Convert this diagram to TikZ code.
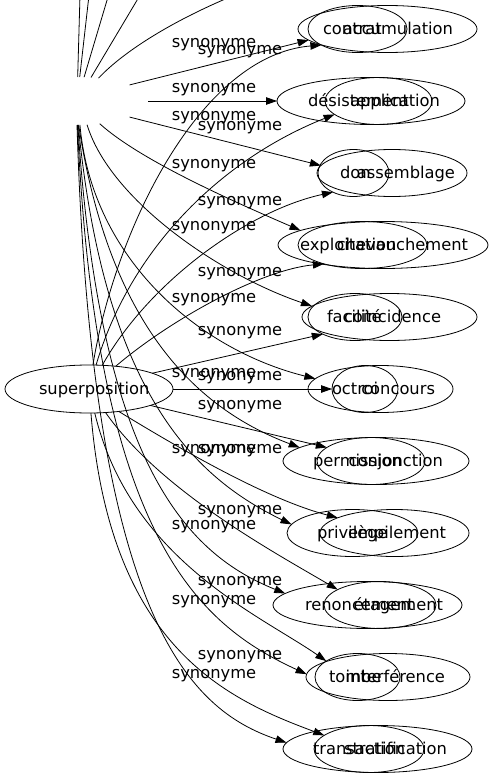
\documentclass[tikz,border=0pt]{standalone}
\usepackage{fontspec}
\setmainfont{DejaVu Sans}
\usetikzlibrary{shapes.geometric,arrows.meta}
\begin{document}
\begin{tikzpicture}[x=1pt,y=-1pt,
  every node/.style={inner sep=0pt,outer sep=0pt},
  ell/.style={draw,ellipse,line width=0.8pt,minimum height=47pt},
  word/.style={font=\fontsize{16.3}{20}\selectfont},
  lbl/.style={font=\fontsize{16.3}{20}\selectfont},
  edge/.style={line width=0.8pt,-{Triangle[length=11pt,width=7.5pt]}},
  stub/.style={line width=0.8pt}]
\useasboundingbox (0,0) rectangle (493,779);
\begin{scope}
\clip (0,0) rectangle (493,779);

% hidden hub of the cut-off graph
\node[ellipse,minimum width=142pt,minimum height=48pt] (hub) at (77,101) {};
\coordinate (o1) at (81,-40);
\coordinate (o2) at (93,-40);
\coordinate (o3) at (119,-40);
\coordinate (o4) at (161,-40);
\coordinate (o5) at (260,-15);

% superposition
\node[ell,minimum width=168pt,minimum height=48pt] (S) at (89,389) {};
\node[word,anchor=base west] (St) at (39,394.5) {superposition};

% rows
\node[ell,minimum width=179pt] (a1) at (387.5,29) {};
\node[ell,minimum width=99pt] (b1) at (357.5,29) {};
\node[word,anchor=base west] (w1a) at (323,34.5) {contrat};
\node[word,anchor=base east] (w1b) at (453,34.5) {accumulation};

\node[ell,minimum width=188pt] (a2) at (371,101) {};
\node[ell,minimum width=107pt] (b2) at (378.5,101) {};
\node[word,anchor=base west] (w2a) at (308,106.5) {désistement};
\node[word,anchor=base east] (w2b) at (440,106.5) {application};

\node[ell,minimum width=150pt] (a3) at (392,173) {};
\node[ell,minimum width=71pt] (b3) at (353.5,173) {};
\node[word,anchor=base west] (w3a) at (340,178.5) {don};
\node[word,anchor=base east] (w3b) at (455,178.5) {assemblage};

\node[ell,minimum width=210pt] (a4) at (383,245) {};
\node[ell,minimum width=129pt] (b4) at (362.5,245) {};
\node[word,anchor=base west] (w4a) at (300,250.5) {exploitation};
\node[word,anchor=base east] (w4b) at (468,250.5) {chevauchement};

\node[ell,minimum width=175pt] (a5) at (389.5,317) {};
\node[ell,minimum width=94pt] (b5) at (355,317) {};
\node[word,anchor=base west] (w5a) at (327,322.5) {facilité};
\node[word,anchor=base east] (w5b) at (441,322.5) {coïncidence};

\node[ell,minimum width=145pt] (a6) at (380.5,389) {};
\node[ell,minimum width=66pt] (b6) at (365,389) {};
\node[word,anchor=base west] (w6a) at (332,394.5) {octroi};
\node[word,anchor=base east] (w6b) at (435,394.5) {concours};

\node[ell,minimum width=186pt] (a7) at (376,461) {};
\node[ell,minimum width=108pt] (b7) at (371,461) {};
\node[word,anchor=base west] (w7a) at (313,466.5) {permission};
\node[word,anchor=base east] (w7b) at (443,466.5) {conjonction};

\node[ell,minimum width=131pt] (a8) at (352.5,533) {};
\node[ell,minimum width=149pt] (b8) at (394.5,533) {};
\node[word,anchor=base west] (w8a) at (317,538.5) {privilège};
\node[word,anchor=base east] (w8b) at (446,538.5) {empilement};

\node[ell,minimum width=189pt] (a9) at (367.5,605) {};
\node[ell,minimum width=112pt] (b9) at (380,605) {};
\node[word,anchor=base west] (w9a) at (305,610.5) {renoncement};
\node[word,anchor=base east] (w9b) at (443,610.5) {étagement};

\node[ell,minimum width=164pt] (a10) at (388,677) {};
\node[ell,minimum width=85pt] (b10) at (357.5,677) {};
\node[word,anchor=base west] (w10a) at (329,682.5) {tombe};
\node[word,anchor=base east] (w10b) at (445,682.5) {interférence};

\node[ell,minimum width=189pt] (a11) at (377.5,749) {};
\node[ell,minimum width=110pt] (b11) at (369,749) {};
\node[word,anchor=base west] (w11a) at (313,754.5) {transaction};
\node[word,anchor=base east] (w11b) at (447,754.5) {stratification};

% edge labels
\node[lbl] (l1) at (214,45) {synonyme};
\node[lbl] (l2) at (214,90) {synonyme};
\node[lbl] (l3) at (214,118) {synonyme};
\node[lbl] (l4) at (214,166) {synonyme};
\node[lbl] (l5) at (214,228) {synonyme};
\node[lbl] (l6) at (214,300) {synonyme};
\node[lbl] (l7) at (214,375) {synonyme};
\node[lbl] (l8) at (214,451) {synonyme};
\node[lbl] (l9) at (214,527) {synonyme};
\node[lbl] (l10) at (214,602) {synonyme};
\node[lbl] (l11) at (214,676) {synonyme};
\node[lbl] (m1) at (240,52) {synonyme};
\node[lbl] (m2) at (240,128) {synonyme};
\node[lbl] (m3) at (240,203) {synonyme};
\node[lbl] (m4) at (240,274) {synonyme};
\node[lbl] (m5) at (240,333) {synonyme};
\node[lbl] (m6) at (240,378) {synonyme};
\node[lbl] (m7) at (240,407) {synonyme};
\node[lbl] (m8) at (240,451) {synonyme};
\node[lbl] (m9) at (240,512) {synonyme};
\node[lbl] (m10) at (240,583) {synonyme};
\node[lbl] (m11) at (240,657) {synonyme};

% edges of the cut-off graph going out of the frame
\draw[stub] (hub) -- (o1);
\draw[stub] (hub) -- (o2);
\draw[stub] (hub) -- (o3);
\draw[stub] (hub) -- (o4);
\draw[stub] (hub) .. controls (125,50) and (180,15) .. (o5);

% edges of the cut-off graph
\draw[edge] (hub.17) -- (a1.188);
\draw[edge] (hub.0) -- (a2.180);
\draw[edge] (hub.343) -- (a3.174);
\draw[edge] (hub.315) .. controls (140,160) and (230,200) .. (a4.170);
\draw[edge] (hub.293) .. controls (110,200) and (220,275) .. (a5.172);
\draw[edge] (hub.277) .. controls (92,260) and (200,350) .. (a6.171);
\draw[edge] (hub.274) .. controls (110,330) and (200,410) .. (a7.170);
\draw[edge] (hub.273) .. controls (105,400) and (200,480) .. (a8.172);
\draw[edge] (hub.272) .. controls (100,470) and (190,555) .. (a9.172);
\draw[edge] (hub.271) .. controls (96,540) and (200,625) .. (a10.178);
\draw[edge] (hub.270) .. controls (92,620) and (190,710) .. (a11.176);

% edges of superposition
\draw[edge] (S) .. controls (115,230) and (200,55) .. (b1.204);
\draw[edge] (S) .. controls (130,250) and (220,160) .. (b2.197);
\draw[edge] (S) .. controls (150,280) and (250,210) .. (b3.223);
\draw[edge] (S) .. controls (170,320) and (260,270) .. (b4.206);
\draw[edge] (S.14) -- (b5.208);
\draw[edge] (S.0) -- (b6.180);
\draw[edge] (S.345) -- (b7.163);
\draw[edge] (S.323) .. controls (190,455) and (270,500) .. (b8.165);
\draw[edge] (S) .. controls (160,490) and (270,550) .. (b9.160);
\draw[edge] (S) .. controls (130,560) and (260,615) .. (b10.153);
\draw[edge] (S) .. controls (110,650) and (230,700) .. (b11.163);
\end{scope}
\end{tikzpicture}
\end{document}
